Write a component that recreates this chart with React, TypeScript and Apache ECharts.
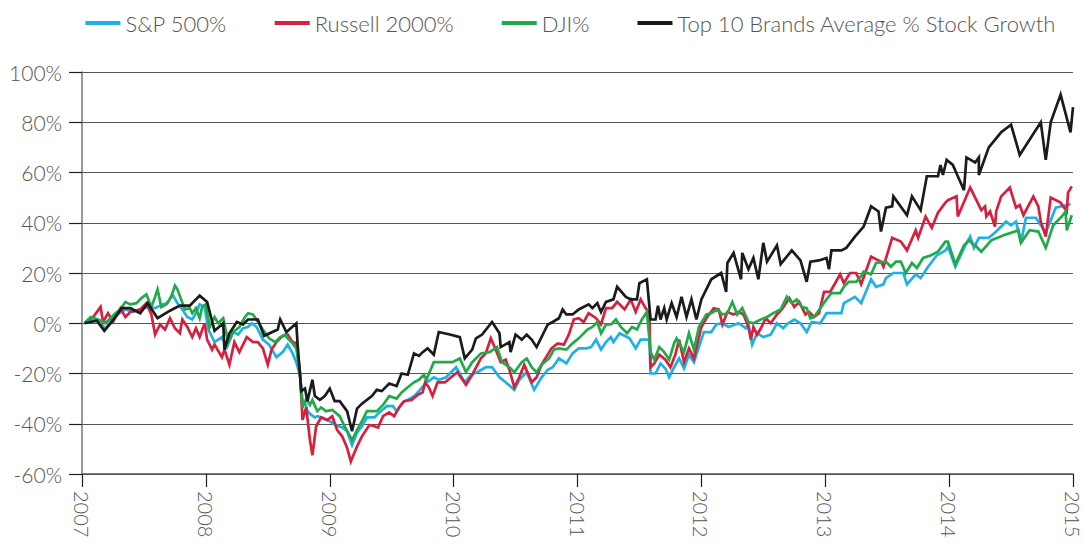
import React, { useEffect, useRef } from "react";
import * as echarts from "echarts";

const seriesNames = ["S&P 500%", "Russell 2000%", "DJI%", "Top 10 Brands Average % Stock Growth"];
const seriesColors = ["#1fb1e6", "#d6203d", "#22a94a", "#1b1b1b"];
const yTicks = [-60, -40, -20, 0, 20, 40, 60, 80, 100];
const years = [2007, 2008, 2009, 2010, 2011, 2012, 2013, 2014, 2015];

// [years since Jan 2007, % change]
const sp500: number[][] = [
  [0.02, 0], [0.11, 1.5], [0.19, -2], [0.23, 0.5], [0.29, 3.5], [0.35, 5.5], [0.41, 4.5], [0.47, 5.5], [0.53, 6.5], [0.59, 6],
  [0.65, 7.5], [0.69, 8], [0.73, 11.5], [0.77, 8], [0.81, 5.5], [0.85, 2.5], [0.89, 1.5], [0.92, 4], [0.95, 7.5], [0.99, 6.5],
  [1.02, -2.5], [1.07, -7.5], [1.13, -5.5], [1.17, -9.5], [1.22, -3.5], [1.26, -4.5], [1.3, -2], [1.34, -1.5], [1.37, 0], [1.41, -1.5],
  [1.46, -6.5], [1.51, -8.5], [1.57, -13.5], [1.62, -11.5], [1.66, -8.5], [1.7, -12], [1.73, -15.5], [1.76, -21], [1.78, -30.5], [1.8, -31.5],
  [1.82, -35], [1.85, -36.5], [1.88, -37.5], [1.9, -37], [1.94, -37.5], [2.0, -39], [2.05, -40.5], [2.1, -41.5], [2.14, -43], [2.18, -48.5],
  [2.22, -43.5], [2.26, -41], [2.3, -37.5], [2.36, -37.5], [2.4, -35.5], [2.46, -33], [2.51, -33], [2.54, -35], [2.59, -31.5], [2.63, -30.5],
  [2.68, -29], [2.72, -27], [2.78, -23.5], [2.8, -23], [2.84, -21.5], [2.88, -22.5], [2.94, -21.5], [3.02, -17.5], [3.09, -23.5], [3.14, -20.5],
  [3.19, -19.5], [3.26, -17.5], [3.31, -17.5], [3.37, -21.5], [3.42, -23.5], [3.49, -26.5], [3.53, -22.5], [3.59, -19.5], [3.65, -26.5], [3.71, -21.5],
  [3.76, -18.5], [3.8, -17.5], [3.85, -14], [3.91, -16], [3.96, -12], [4.01, -10], [4.07, -10], [4.11, -9.5], [4.15, -6.5], [4.19, -10.5],
  [4.23, -7.5], [4.27, -5.5], [4.29, -7.5], [4.34, -4], [4.42, -6], [4.47, -10], [4.51, -6.5], [4.58, -6.5], [4.59, -20], [4.63, -20],
  [4.67, -16], [4.71, -18], [4.74, -21.5], [4.78, -17.5], [4.82, -14], [4.86, -18], [4.9, -12.5], [4.94, -15.5], [4.98, -9.5], [5.02, -3.5],
  [5.08, -3.5], [5.12, -0.5], [5.17, 0], [5.22, -1.5], [5.3, 0], [5.36, -2], [5.38, -0.5], [5.41, -8.5], [5.45, -4], [5.5, -5.5],
  [5.56, -4.5], [5.61, 0], [5.66, -2], [5.7, 0], [5.75, 1.5], [5.8, 0], [5.85, -3.5], [5.89, 0.5], [5.96, 0], [6.01, 4],
  [6.13, 4], [6.15, 8], [6.24, 10.5], [6.29, 8], [6.37, 17.5], [6.41, 14.5], [6.47, 15.5], [6.49, 18], [6.55, 20], [6.63, 20],
  [6.66, 15.5], [6.73, 19.5], [6.77, 18], [6.83, 22.5], [6.9, 27], [6.97, 29], [6.99, 30.5], [7.05, 22.5], [7.12, 30], [7.17, 34.5],
  [7.2, 30], [7.24, 34], [7.32, 34], [7.38, 36.5], [7.46, 40.5], [7.5, 39], [7.54, 40.5], [7.58, 32], [7.62, 42], [7.7, 42],
  [7.78, 36], [7.86, 46], [7.95, 47], [7.98, 47.5]
];

const russell2000: number[][] = [
  [0.03, 0.5], [0.09, 2.5], [0.15, 6.5], [0.17, 0.5], [0.21, 4], [0.25, 0.5], [0.31, 6], [0.35, 2.5], [0.39, 4.5], [0.47, 5.5],
  [0.52, 8], [0.56, 3.5], [0.59, -4.5], [0.63, -0.5], [0.67, -2.5], [0.71, 2], [0.75, -2], [0.79, -4], [0.81, 1.5], [0.85, -1.5],
  [0.89, -5.5], [0.92, -2], [0.95, -5.5], [0.99, 0], [1.01, -6.5], [1.05, -10.5], [1.07, -8.5], [1.13, -13.5], [1.15, -10.5], [1.19, -16.5],
  [1.23, -7.5], [1.27, -11.5], [1.33, -5.5], [1.38, -7.5], [1.42, -7.5], [1.46, -10], [1.5, -16.5], [1.53, -10.5], [1.57, -7.5], [1.61, -5.5],
  [1.66, -4.5], [1.7, -7.5], [1.73, -8], [1.76, -19.5], [1.78, -38.5], [1.81, -33.5], [1.84, -46.5], [1.86, -52.5], [1.89, -41], [1.93, -37.5],
  [1.98, -38.5], [2.02, -37], [2.06, -42.5], [2.1, -45], [2.14, -49.5], [2.17, -55], [2.22, -49], [2.26, -45], [2.32, -40.5], [2.36, -41],
  [2.39, -41.5], [2.43, -37], [2.48, -35.5], [2.52, -37], [2.56, -33.5], [2.6, -31], [2.66, -30.5], [2.71, -28.5], [2.75, -27.5], [2.77, -23.5],
  [2.8, -25.5], [2.83, -29], [2.87, -23.5], [2.93, -23.5], [2.98, -21.5], [3.03, -19.5], [3.1, -24.5], [3.15, -20.5], [3.22, -14], [3.26, -12],
  [3.3, -6], [3.34, -10.5], [3.38, -15.5], [3.42, -14.5], [3.45, -18.5], [3.49, -25.5], [3.53, -21.5], [3.57, -16.5], [3.63, -23.5], [3.67, -21.5],
  [3.71, -16.5], [3.79, -10], [3.84, -8], [3.89, -8.5], [3.93, -4.5], [3.97, 1.5], [4.01, 2], [4.05, 0.5], [4.09, 4], [4.15, 2],
  [4.19, -0.5], [4.23, 6], [4.28, 6], [4.32, 8.5], [4.38, 5.5], [4.43, 9.5], [4.47, 4.5], [4.51, 9.5], [4.55, 6], [4.58, 4],
  [4.59, -17.5], [4.62, -16], [4.66, -12.5], [4.71, -14.5], [4.75, -17.5], [4.79, -12.5], [4.82, -6.5], [4.86, -15.5], [4.9, -10], [4.94, -14],
  [5.0, -1.5], [5.04, 2], [5.1, 6], [5.14, 5.5], [5.17, -0.5], [5.21, 4.5], [5.26, 3.5], [5.3, 4.5], [5.34, 3.5], [5.38, -1.5],
  [5.4, -6.5], [5.42, -1.5], [5.45, -4.5], [5.48, -2], [5.52, 2], [5.56, 0], [5.61, 3.5], [5.65, 5.5], [5.71, 10], [5.75, 6.5],
  [5.79, 8.5], [5.84, 3.5], [5.87, 4.5], [5.91, 2.5], [5.95, 4], [5.99, 12.5], [6.04, 12.5], [6.12, 19.5], [6.15, 16], [6.2, 20],
  [6.25, 20], [6.29, 15.5], [6.37, 26.5], [6.45, 24.5], [6.47, 22.5], [6.54, 34], [6.61, 32.5], [6.66, 29], [6.73, 37], [6.75, 34],
  [6.81, 42.5], [6.86, 38], [6.91, 44], [6.97, 48], [6.99, 49], [7.06, 50.5], [7.07, 42.5], [7.17, 54], [7.26, 45], [7.29, 46.5],
  [7.3, 42.5], [7.33, 44.5], [7.37, 38.5], [7.38, 44.5], [7.42, 50.5], [7.49, 54], [7.54, 46], [7.57, 47], [7.6, 43], [7.68, 50.5],
  [7.72, 46.5], [7.74, 40.5], [7.78, 34.5], [7.82, 50], [7.9, 48], [7.95, 44.5], [7.96, 52], [7.99, 54.5]
];

const dji: number[][] = [
  [0.02, 0], [0.07, 2.5], [0.13, 1.5], [0.19, 0], [0.23, 2], [0.27, 4], [0.31, 5.5], [0.35, 8.5], [0.39, 7.5], [0.44, 8],
  [0.48, 10], [0.52, 11.5], [0.56, 6.5], [0.59, 10.5], [0.61, 13.5], [0.64, 6.5], [0.68, 7.5], [0.72, 10.5], [0.75, 15], [0.77, 13.5],
  [0.8, 9.5], [0.83, 5.5], [0.87, 6], [0.89, 4], [0.92, 6], [0.95, 2], [0.97, 6.5], [1.0, 7.5], [1.03, -1.5], [1.07, 2.5],
  [1.1, 0], [1.14, 2], [1.18, -7.5], [1.22, -3.5], [1.27, -1.5], [1.31, 2], [1.34, 4], [1.38, 3.5], [1.42, 0.5], [1.46, -2.5],
  [1.51, -6], [1.56, -7.5], [1.6, -5.5], [1.64, -4.5], [1.66, -6], [1.7, -8], [1.73, -10], [1.76, -20], [1.78, -33.5], [1.81, -30],
  [1.84, -32.5], [1.86, -30.5], [1.9, -35], [1.93, -33.5], [1.97, -35], [2.02, -34.5], [2.08, -37], [2.12, -41], [2.18, -46.5], [2.22, -42.5],
  [2.26, -39], [2.3, -35], [2.38, -35], [2.43, -32.5], [2.48, -29], [2.54, -30], [2.58, -27.5], [2.63, -25.5], [2.68, -23.5], [2.72, -22.5],
  [2.76, -20.5], [2.78, -22.5], [2.84, -15.5], [2.91, -15.5], [2.99, -15.5], [3.05, -14], [3.1, -19.5], [3.15, -15.5], [3.22, -12], [3.29, -11.5],
  [3.35, -9.5], [3.39, -15.5], [3.45, -17.5], [3.49, -19.5], [3.55, -15.5], [3.59, -14], [3.63, -17.5], [3.67, -19.5], [3.71, -16.5], [3.77, -14],
  [3.81, -10.5], [3.85, -10], [3.91, -10.5], [3.96, -8], [4.01, -6], [4.08, -2.5], [4.12, -1.5], [4.16, 0.5], [4.19, -4], [4.23, -0.5],
  [4.27, -0.5], [4.31, 1.5], [4.35, -1.5], [4.4, -4], [4.44, -1.5], [4.48, -2.5], [4.52, 1.5], [4.56, 4.5], [4.59, -11.5], [4.62, -14.5],
  [4.66, -9.5], [4.7, -11.5], [4.74, -14.5], [4.78, -8], [4.8, -6], [4.86, -11.5], [4.9, -4], [4.94, -10.5], [4.98, -1.5], [5.04, 3.5],
  [5.08, 4], [5.13, 5.5], [5.17, 3.5], [5.21, 4], [5.25, 8.5], [5.29, 3.5], [5.33, 6], [5.38, 0.5], [5.42, 0], [5.48, 1.5],
  [5.53, 2.5], [5.58, 4], [5.64, 5.5], [5.69, 10.5], [5.73, 8], [5.77, 9.5], [5.81, 6.5], [5.85, 6], [5.88, 2], [5.91, 2.5],
  [5.96, 6], [6.01, 9.5], [6.05, 12], [6.12, 12], [6.15, 14.5], [6.19, 16.5], [6.25, 16.5], [6.28, 18], [6.31, 20.5], [6.37, 19.5],
  [6.41, 24], [6.49, 24.5], [6.53, 22.5], [6.57, 24.5], [6.61, 24.5], [6.65, 20], [6.7, 24], [6.74, 22], [6.79, 26], [6.85, 27],
  [6.91, 28.5], [6.97, 32.5], [6.99, 32.5], [7.05, 23.5], [7.12, 31], [7.16, 33], [7.18, 32], [7.22, 30.5], [7.26, 28.5], [7.34, 33],
  [7.44, 35], [7.56, 37], [7.58, 32], [7.65, 37], [7.72, 36.5], [7.78, 30], [7.84, 39], [7.91, 42.5], [7.94, 44.5], [7.95, 37],
  [7.99, 43]
];

const top10Brands: number[][] = [
  [0.02, 0], [0.12, 1], [0.18, -3], [0.24, 0.5], [0.32, 6], [0.39, 6], [0.47, 4], [0.53, 8], [0.61, 2], [0.71, 5],
  [0.79, 7], [0.87, 7], [0.95, 11], [1.01, 8.5], [1.07, -3], [1.14, 0], [1.15, -10.5], [1.19, -4], [1.25, 0.5], [1.3, -0.5],
  [1.34, 1.5], [1.42, 1.5], [1.47, -5], [1.58, -2.5], [1.6, 1.5], [1.65, -3.5], [1.73, 0], [1.74, -8], [1.77, -27], [1.8, -26],
  [1.82, -31], [1.86, -22.5], [1.88, -29], [1.92, -30.5], [1.96, -29], [2.0, -26], [2.04, -31], [2.08, -31], [2.14, -35], [2.18, -43],
  [2.22, -34], [2.26, -32], [2.34, -29], [2.38, -26.5], [2.42, -27], [2.48, -24], [2.54, -25], [2.58, -20], [2.63, -20.5], [2.68, -12],
  [2.72, -13], [2.75, -11.5], [2.79, -10], [2.84, -12.5], [2.88, -3.5], [2.97, -4.5], [3.05, -5.5], [3.09, -14], [3.15, -10.5], [3.18, -6],
  [3.23, -4.5], [3.31, 0.5], [3.37, -4], [3.38, -9.5], [3.45, -7.5], [3.46, -11.5], [3.5, -4.5], [3.55, -6.5], [3.59, -4.5], [3.63, -6.5],
  [3.67, -9.5], [3.76, -0.5], [3.8, 0.5], [3.85, 2], [3.88, 5.5], [3.91, 3.5], [3.96, 3.5], [4.01, 5.5], [4.09, 7.5], [4.12, 6],
  [4.16, 8], [4.19, 4.5], [4.23, 8.5], [4.29, 9.5], [4.32, 14.5], [4.39, 10.5], [4.43, 9.5], [4.48, 9.5], [4.5, 16], [4.56, 17.5],
  [4.59, 1.5], [4.63, 1.5], [4.65, 7], [4.67, 1.5], [4.7, 6], [4.72, 1.5], [4.76, 8], [4.8, 2.5], [4.84, 10.5], [4.88, 2.5],
  [4.92, 9.5], [4.96, 1.5], [5.0, 9.5], [5.08, 17.5], [5.16, 20], [5.2, 12.5], [5.21, 24], [5.26, 28], [5.32, 17.5], [5.33, 28],
  [5.38, 21.5], [5.42, 26], [5.46, 17.5], [5.5, 32], [5.53, 24.5], [5.61, 31], [5.64, 23.5], [5.73, 29], [5.8, 25], [5.85, 16.5],
  [5.88, 24.5], [5.95, 25], [6.01, 26], [6.03, 21.5], [6.05, 29], [6.13, 29], [6.17, 30], [6.24, 34.5], [6.31, 38.5], [6.37, 46.5],
  [6.43, 44.5], [6.45, 36.5], [6.49, 46], [6.54, 46.5], [6.55, 50.5], [6.66, 43], [6.7, 50.5], [6.77, 45], [6.82, 58.5], [6.91, 58.5],
  [6.93, 63], [6.95, 59], [6.98, 65], [7.03, 63], [7.07, 58.5], [7.12, 53], [7.14, 66], [7.21, 64], [7.24, 66], [7.24, 59],
  [7.32, 70], [7.42, 76], [7.5, 79], [7.57, 67], [7.74, 80], [7.78, 65], [7.82, 80], [7.9, 91], [7.98, 76], [8.0, 86]
];

const allSeries = [sp500, russell2000, dji, top10Brands];
const FONT = "Lato, 'Open Sans', sans-serif";

export default function App() {
  const ref = useRef<HTMLDivElement>(null);
  useEffect(() => {
    if (!ref.current) return;
    const chart = echarts.init(ref.current, undefined, { renderer: "svg" });
    chart.setOption({
      animation: false,
      backgroundColor: "#ffffff",
      textStyle: { fontFamily: FONT },
      legend: {
        data: seriesNames,
        right: 22,
        top: 7,
        icon: "rect",
        itemWidth: 35,
        itemHeight: 4,
        itemGap: 48,
        textStyle: { fontSize: 22, color: "#555", fontWeight: 300, fontFamily: FONT },
      },
      grid: { left: 82, right: 8, top: 72, bottom: 70, containLabel: false },
      xAxis: {
        type: "value",
        min: years[0],
        max: years[years.length - 1],
        interval: 1,
        axisLine: { show: true, onZero: false, lineStyle: { color: "#555", width: 1.5 } },
        axisTick: { show: true, length: 13, inside: false, lineStyle: { color: "#222", width: 1.2 } },
        axisLabel: {
          rotate: -90,
          margin: 17,
          fontSize: 20,
          lineHeight: 14,
          color: "#555",
          fontWeight: 300,
          fontFamily: FONT,
          formatter: (v: number) => String(Math.round(v)),
        },
        splitLine: { show: false },
      },
      yAxis: {
        type: "value",
        min: yTicks[0],
        max: yTicks[yTicks.length - 1],
        interval: 20,
        axisLine: { show: true, onZero: false, lineStyle: { color: "#777", width: 1.5 } },
        axisTick: { show: true, length: 13, inside: false, lineStyle: { color: "#222", width: 1.2 } },
        axisLabel: {
          margin: 20,
          fontSize: 21,
          color: "#555",
          fontWeight: 300,
          fontFamily: FONT,
          formatter: (v: number) => v + "%",
        },
        splitLine: { show: true, lineStyle: { color: "#555", width: 1.2 } },
      },
      series: allSeries.map((d, i) => ({
        name: seriesNames[i],
        type: "line",
        data: d.map((p) => [years[0] + p[0], p[1]]),
        showSymbol: false,
        symbol: "none",
        lineStyle: { color: seriesColors[i], width: 2.7, join: "miter" },
        itemStyle: { color: seriesColors[i] },
        z: 2 + i,
      })),
    });
    return () => chart.dispose();
  }, []);
  return <div ref={ref} style={{ width: 1083, height: 544, position: "absolute", left: 0, top: 0 }} />;
}
